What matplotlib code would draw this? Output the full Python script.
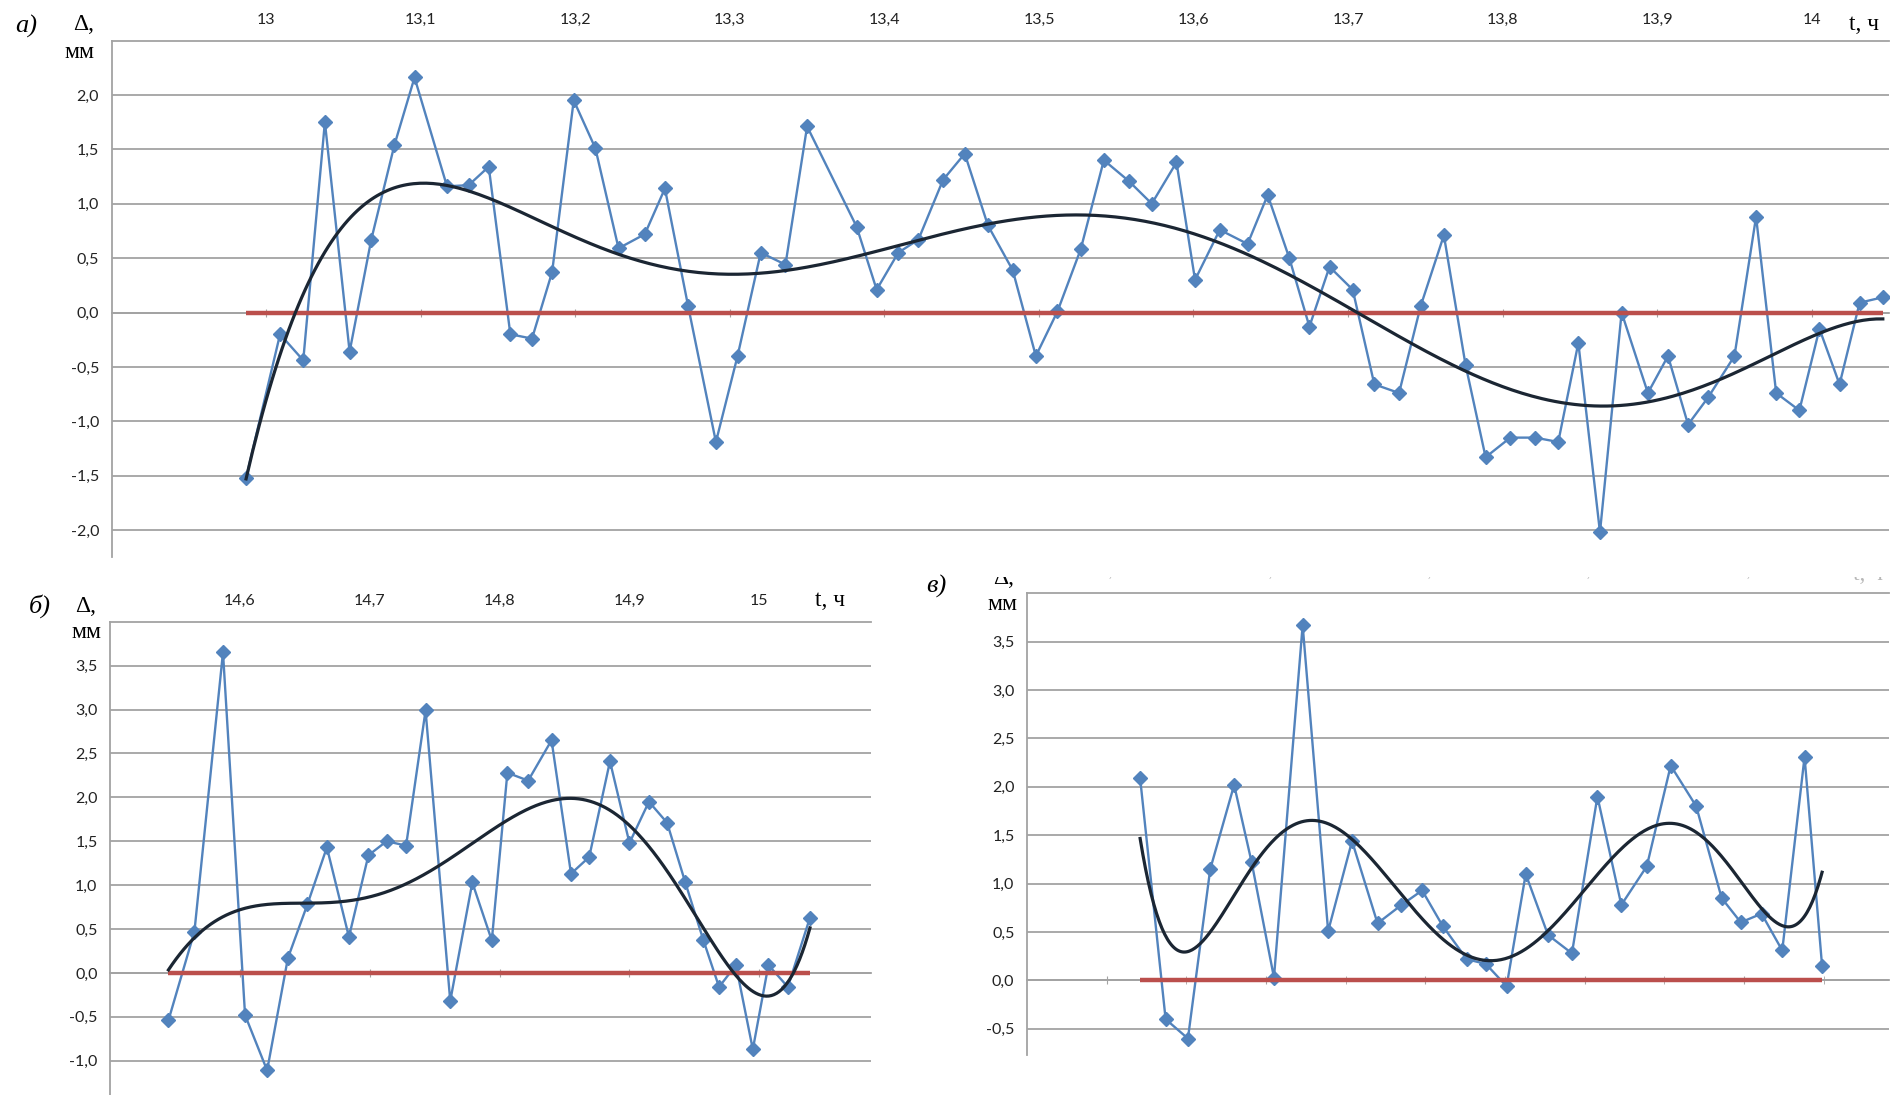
import numpy as np
import matplotlib.pyplot as plt
from matplotlib.patches import Rectangle

# а) 13–14 h
t_a = [12.987, 13.009, 13.024, 13.038, 13.054, 13.068, 13.083, 13.096, 13.117, 13.131,
       13.144, 13.158, 13.172, 13.185, 13.199, 13.213, 13.228, 13.245, 13.258, 13.273,
       13.291, 13.305, 13.320, 13.336, 13.350, 13.382, 13.395, 13.409, 13.422, 13.438,
       13.452, 13.467, 13.483, 13.498, 13.512, 13.527, 13.542, 13.558, 13.573, 13.589,
       13.601, 13.617, 13.635, 13.648, 13.662, 13.675, 13.688, 13.703, 13.717, 13.733,
       13.747, 13.762, 13.776, 13.789, 13.805, 13.821, 13.836, 13.849, 13.863, 13.877,
       13.894, 13.907, 13.920, 13.933, 13.950, 13.964, 13.977, 13.992, 14.005, 14.018,
       14.031, 14.046]
d_a = [-1.52, -0.20, -0.44, 1.75, -0.36, 0.67, 1.54, 2.16, 1.16, 1.17,
       1.34, -0.20, -0.24, 0.37, 1.95, 1.51, 0.59, 0.72, 1.14, 0.06,
       -1.19, -0.40, 0.55, 0.44, 1.71, 0.79, 0.21, 0.55, 0.67, 1.22,
       1.46, 0.80, 0.39, -0.40, 0.01, 0.58, 1.40, 1.21, 1.00, 1.38,
       0.30, 0.76, 0.63, 1.08, 0.50, -0.13, 0.42, 0.21, -0.66, -0.74,
       0.06, 0.71, -0.48, -1.33, -1.15, -1.15, -1.19, -0.28, -2.02, 0.00,
       -0.74, -0.40, -1.03, -0.78, -0.40, 0.88, -0.74, -0.90, -0.15, -0.66,
       0.09, 0.14]

# б) 14.5–15 h
t_b = [14.545, 14.565, 14.587, 14.604, 14.621, 14.637, 14.652, 14.667, 14.684, 14.699,
       14.713, 14.728, 14.743, 14.762, 14.779, 14.794, 14.806, 14.822, 14.840, 14.855,
       14.869, 14.885, 14.900, 14.915, 14.929, 14.943, 14.957, 14.969, 14.982, 14.995,
       15.007, 15.022, 15.039]
d_b = [-0.54, 0.47, 3.65, -0.48, -1.11, 0.17, 0.78, 1.43, 0.41, 1.34,
       1.50, 1.45, 2.99, -0.32, 1.03, 0.37, 2.28, 2.19, 2.65, 1.13,
       1.32, 2.41, 1.48, 1.95, 1.71, 1.03, 0.37, -0.16, 0.09, -0.87,
       0.09, -0.16, 0.63]

# в) 15.5–16 h
t_v = [15.521, 15.537, 15.551, 15.565, 15.580, 15.591, 15.605, 15.623, 15.639, 15.654,
       15.670, 15.685, 15.698, 15.711, 15.726, 15.738, 15.751, 15.763, 15.777, 15.792,
       15.808, 15.823, 15.839, 15.854, 15.870, 15.886, 15.898, 15.911, 15.924, 15.938,
       15.949]
d_v = [2.09, -0.40, -0.60, 1.15, 2.02, 1.22, 0.03, 3.67, 0.51, 1.44,
       0.59, 0.78, 0.93, 0.56, 0.22, 0.17, -0.06, 1.10, 0.47, 0.28,
       1.90, 0.78, 1.18, 2.22, 1.80, 0.85, 0.60, 0.69, 0.31, 2.31,
       0.15]

xt_a = [13.0, 13.1, 13.2, 13.3, 13.4, 13.5, 13.6, 13.7, 13.8, 13.9, 14.0]
xl_a = ['13', '13,1', '13,2', '13,3', '13,4', '13,5', '13,6', '13,7', '13,8', '13,9', '14']
yt_a = [-2.0, -1.5, -1.0, -0.5, 0.0, 0.5, 1.0, 1.5, 2.0]
yl_a = ['-2,0', '-1,5', '-1,0', '-0,5', '0,0', '0,5', '1,0', '1,5', '2,0']

xt_b = [14.6, 14.7, 14.8, 14.9, 15.0]
xl_b = ['14,6', '14,7', '14,8', '14,9', '15']
yt_b = [-1.0, -0.5, 0.0, 0.5, 1.0, 1.5, 2.0, 2.5, 3.0, 3.5]
yl_b = ['-1,0', '-0,5', '0,0', '0,5', '1,0', '1,5', '2,0', '2,5', '3,0', '3,5']

xt_v = [15.5, 15.6, 15.7, 15.8, 15.9]
xm_v = [15.55, 15.65, 15.75, 15.85, 15.95]
xl_v = ['15,5', '15,6', '15,7', '15,8', '15,9']
yt_v = [-0.5, 0.0, 0.5, 1.0, 1.5, 2.0, 2.5, 3.0, 3.5]
yl_v = ['-0,5', '0,0', '0,5', '1,0', '1,5', '2,0', '2,5', '3,0', '3,5']

BLUE = '#5283bd'
RED = '#bb4f4c'
TREND = '#1b2633'
GRID = '#a3a3a3'
SERIF = 'Liberation Serif'
SANS = 'Lato'
W, H = 1902, 1095

fig = plt.figure(figsize=(W / 100, H / 100), dpi=100, facecolor='white')


def px_axes(left, top, right, bottom):
    return fig.add_axes([left / W, 1 - bottom / H, (right - left) / W, (bottom - top) / H])


def ftext(x, y, s, **kw):
    fig.text(x / W, 1 - y / H, s, ha='center', va='center', **kw)


def panel(ax, t, d, xlim, ylim, xticks, xlabels, yticks, ylabels, minor=None, xcolor='#222222'):
    t = np.asarray(t)
    d = np.asarray(d)
    ax.set_xlim(xlim)
    ax.set_ylim(ylim)
    ax.set_yticks(yticks, ylabels)
    ax.set_xticks(xticks, xlabels)
    if minor is not None:
        ax.set_xticks(minor, minor=True)
    ax.yaxis.grid(True, color=GRID, lw=1.3)
    ax.set_axisbelow(True)
    ax.spines['right'].set_visible(False)
    ax.spines['bottom'].set_position(('data', 0))
    for s in ('bottom', 'left', 'top'):
        ax.spines[s].set_color(GRID)
        ax.spines[s].set_linewidth(1.3)
    ax.tick_params(axis='x', which='both', bottom=True, top=False, labelbottom=False,
                   labeltop=True, direction='inout', length=6, color=GRID, pad=7,
                   labelsize=11.5, labelcolor=xcolor)
    ax.tick_params(axis='y', length=0, pad=9, labelsize=11.5, labelcolor='#222222')
    for lab in ax.get_xticklabels() + ax.get_yticklabels():
        lab.set_fontfamily(SANS)

    # measured deviation
    ax.plot(t, d, color=BLUE, lw=1.7, marker='D', ms=7, mfc=BLUE, mec=BLUE, zorder=3)
    # zero reference
    ax.plot(t, np.zeros_like(t), color=RED, lw=3.2, solid_capstyle='butt', zorder=4)
    # 6th order polynomial trend
    c = t.mean()
    p = np.polyfit(t - c, d, 6)
    tt = np.linspace(t[0], t[-1], 500)
    ax.plot(tt, np.polyval(p, tt - c), color=TREND, lw=2.3, zorder=5)


ax_a = px_axes(111.6, 40.5, 1889, 557.3)
panel(ax_a, t_a, d_a, (12.9, 14.05), (-2.25, 2.5), xt_a, xl_a, yt_a, yl_a)

ax_b = px_axes(110, 621.7, 871, 1095)
panel(ax_b, t_b, d_b, (14.5, 15.086), (-1.39, 4.0), xt_b, xl_b, yt_b, yl_b)

ax_v = px_axes(1027, 593.3, 1889, 1054.6)
panel(ax_v, t_v, d_v, (15.45, 15.991), (-0.766, 4.0), xt_v, xl_v, yt_v, yl_v,
      minor=xm_v, xcolor='#b8b8b8')

# panel captions and axis names
ftext(26, 26, 'а)', family=SERIF, style='italic', fontsize=19)
ftext(84, 24, 'Δ,', family=SERIF, fontsize=17)
ftext(79, 52, 'мм', family=SERIF, fontsize=17)
ftext(1864, 24, 't, ч', family=SERIF, fontsize=17)

ftext(40, 606, 'б)', family=SERIF, style='italic', fontsize=19)
ftext(86, 606, 'Δ,', family=SERIF, fontsize=17)
ftext(86, 633, 'мм', family=SERIF, fontsize=17)
ftext(830, 601, 't, ч', family=SERIF, fontsize=17)

ftext(936, 586, 'в)', family=SERIF, style='italic', fontsize=19)
ftext(1004, 579, 'Δ,', family=SERIF, fontsize=17)
ftext(1002, 604, 'мм', family=SERIF, fontsize=17)
ftext(1868, 574, 't, ч', family=SERIF, fontsize=17, color='#b8b8b8')

# the upper strip of panel в is cut off
fig.add_artist(Rectangle((985 / W, 1 - 577 / H), (W - 985) / W, 20 / H,
                         transform=fig.transFigure, facecolor='white',
                         edgecolor='none', zorder=10))

fig.savefig('out.png', dpi=100, facecolor='white')
